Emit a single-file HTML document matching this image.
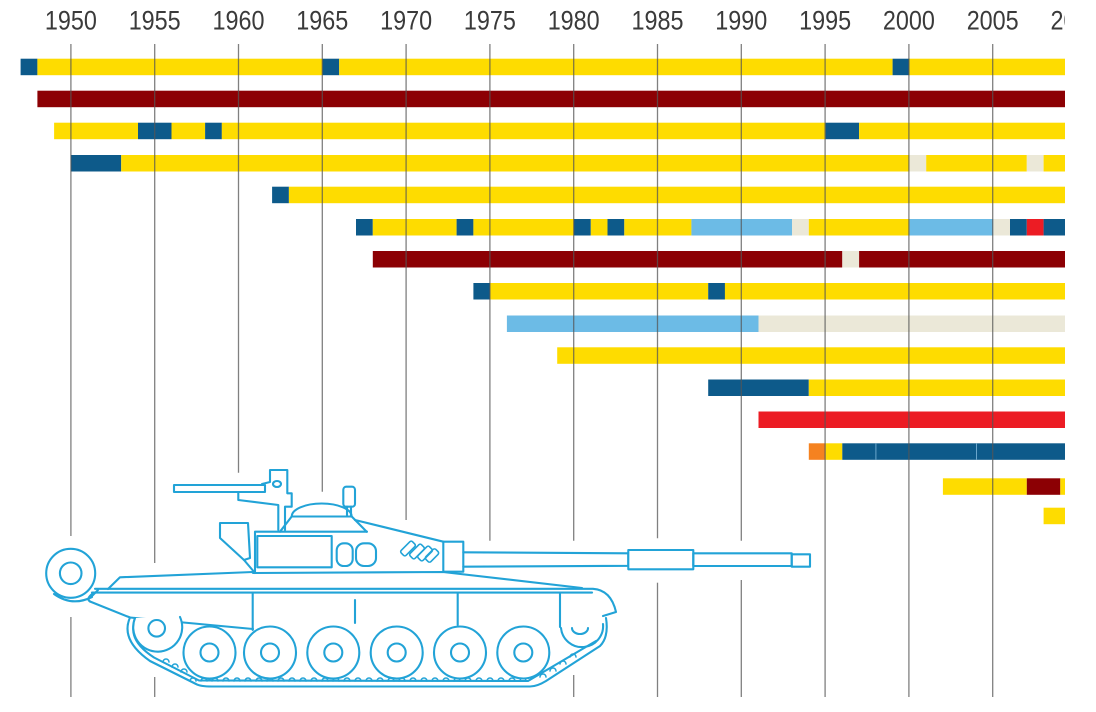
<!DOCTYPE html>
<html><head><meta charset="utf-8">
<style>
html,body{margin:0;padding:0;background:#fff;}
svg{display:block;}
</style></head>
<body>
<svg width="1096" height="712" viewBox="0 0 1096 712" xmlns="http://www.w3.org/2000/svg">
<defs>
<clipPath id="cp"><rect x="0" y="0" width="1065" height="712"/></clipPath>
</defs>
<rect width="1096" height="712" fill="#fff"/>
<g clip-path="url(#cp)">
<!-- year labels -->
<g font-family="Liberation Sans, sans-serif" font-size="27" fill="#3a3a3a" text-anchor="middle">
<text x="70.9" y="29.3" textLength="52" lengthAdjust="spacingAndGlyphs">1950</text>
<text x="154.7" y="29.3" textLength="52" lengthAdjust="spacingAndGlyphs">1955</text>
<text x="238.5" y="29.3" textLength="52" lengthAdjust="spacingAndGlyphs">1960</text>
<text x="322.3" y="29.3" textLength="52" lengthAdjust="spacingAndGlyphs">1965</text>
<text x="406.1" y="29.3" textLength="52" lengthAdjust="spacingAndGlyphs">1970</text>
<text x="489.9" y="29.3" textLength="52" lengthAdjust="spacingAndGlyphs">1975</text>
<text x="573.7" y="29.3" textLength="52" lengthAdjust="spacingAndGlyphs">1980</text>
<text x="657.5" y="29.3" textLength="52" lengthAdjust="spacingAndGlyphs">1985</text>
<text x="741.3" y="29.3" textLength="52" lengthAdjust="spacingAndGlyphs">1990</text>
<text x="825.1" y="29.3" textLength="52" lengthAdjust="spacingAndGlyphs">1995</text>
<text x="908.9" y="29.3" textLength="52" lengthAdjust="spacingAndGlyphs">2000</text>
<text x="992.7" y="29.3" textLength="52" lengthAdjust="spacingAndGlyphs">2005</text>
<text x="1076.5" y="29.3" textLength="52" lengthAdjust="spacingAndGlyphs">2010</text>
</g>

<!-- bars -->
<g>
<!-- R1 -->
<rect x="20.6" y="58.7" width="16.8" height="16.5" fill="#0d5a8a"/>
<rect x="37.4" y="58.7" width="285.1" height="16.5" fill="#fedc00"/>
<rect x="322.4" y="58.7" width="16.8" height="16.5" fill="#0d5a8a"/>
<rect x="339.2" y="58.7" width="553.4" height="16.5" fill="#fedc00"/>
<rect x="892.6" y="58.7" width="16.8" height="16.5" fill="#0d5a8a"/>
<rect x="909.4" y="58.7" width="160" height="16.5" fill="#fedc00"/>
<!-- R2 -->
<rect x="37.4" y="90.7" width="1040" height="16.5" fill="#8c0004"/>
<!-- R3 -->
<rect x="54.1" y="122.7" width="83.9" height="16.5" fill="#fedc00"/>
<rect x="138" y="122.7" width="33.5" height="16.5" fill="#0d5a8a"/>
<rect x="171.5" y="122.7" width="33.6" height="16.5" fill="#fedc00"/>
<rect x="205.1" y="122.7" width="16.8" height="16.5" fill="#0d5a8a"/>
<rect x="221.8" y="122.7" width="603.7" height="16.5" fill="#fedc00"/>
<rect x="825.5" y="122.7" width="33.6" height="16.5" fill="#0d5a8a"/>
<rect x="859.1" y="122.7" width="220" height="16.5" fill="#fedc00"/>
<!-- R4 -->
<rect x="70.9" y="155" width="50.3" height="16.5" fill="#0d5a8a"/>
<rect x="121.2" y="155" width="788.2" height="16.5" fill="#fedc00"/>
<rect x="909.4" y="155" width="16.8" height="16.5" fill="#ebe8d8"/>
<rect x="926.2" y="155" width="100.6" height="16.5" fill="#fedc00"/>
<rect x="1026.8" y="155" width="16.8" height="16.5" fill="#ebe8d8"/>
<rect x="1043.6" y="155" width="40" height="16.5" fill="#fedc00"/>
<!-- R5 -->
<rect x="272.1" y="186.7" width="16.8" height="16.5" fill="#0d5a8a"/>
<rect x="288.9" y="186.7" width="800" height="16.5" fill="#fedc00"/>
<!-- R6 -->
<rect x="356" y="219" width="16.8" height="16.5" fill="#0d5a8a"/>
<rect x="372.8" y="219" width="83.8" height="16.5" fill="#fedc00"/>
<rect x="456.6" y="219" width="16.8" height="16.5" fill="#0d5a8a"/>
<rect x="473.4" y="219" width="100.6" height="16.5" fill="#fedc00"/>
<rect x="574" y="219" width="16.8" height="16.5" fill="#0d5a8a"/>
<rect x="590.8" y="219" width="16.7" height="16.5" fill="#fedc00"/>
<rect x="607.5" y="219" width="16.8" height="16.5" fill="#0d5a8a"/>
<rect x="624.3" y="219" width="67.1" height="16.5" fill="#fedc00"/>
<rect x="691.4" y="219" width="100.6" height="16.5" fill="#6cbbe6"/>
<rect x="792" y="219" width="16.8" height="16.5" fill="#ebe8d8"/>
<rect x="808.8" y="219" width="100.6" height="16.5" fill="#fedc00"/>
<rect x="909.4" y="219" width="83.9" height="16.5" fill="#6cbbe6"/>
<rect x="993.3" y="219" width="16.7" height="16.5" fill="#ebe8d8"/>
<rect x="1010" y="219" width="16.8" height="16.5" fill="#0d5a8a"/>
<rect x="1026.8" y="219" width="16.8" height="16.5" fill="#ec1c24"/>
<rect x="1043.6" y="219" width="40" height="16.5" fill="#0d5a8a"/>
<!-- R7 -->
<rect x="372.8" y="251" width="469.5" height="16.5" fill="#8c0004"/>
<rect x="842.3" y="251" width="16.8" height="16.5" fill="#ebe8d8"/>
<rect x="859.1" y="251" width="230" height="16.5" fill="#8c0004"/>
<!-- R8 -->
<rect x="473.4" y="283" width="16.8" height="16.5" fill="#0d5a8a"/>
<rect x="490.2" y="283" width="218" height="16.5" fill="#fedc00"/>
<rect x="708.2" y="283" width="16.8" height="16.5" fill="#0d5a8a"/>
<rect x="724.9" y="283" width="360" height="16.5" fill="#fedc00"/>
<!-- R9 -->
<rect x="506.9" y="315.5" width="251.6" height="16.5" fill="#6cbbe6"/>
<rect x="758.5" y="315.5" width="330" height="16.5" fill="#ebe8d8"/>
<!-- R10 -->
<rect x="557.2" y="347.3" width="530" height="16.5" fill="#fedc00"/>
<!-- R11 -->
<rect x="708.2" y="379.5" width="100.6" height="16.5" fill="#0d5a8a"/>
<rect x="808.8" y="379.5" width="280" height="16.5" fill="#fedc00"/>
<!-- R12 -->
<rect x="758.5" y="411.5" width="330" height="16.5" fill="#ec1c24"/>
<!-- R13 -->
<rect x="808.8" y="443.3" width="16.8" height="16.5" fill="#f58220"/>
<rect x="825.6" y="443.3" width="16.7" height="16.5" fill="#fedc00"/>
<rect x="842.3" y="443.3" width="250" height="16.5" fill="#0d5a8a"/>
<line x1="875.9" y1="443.3" x2="875.9" y2="459.8" stroke="#6aa6cc" stroke-width="1"/>
<line x1="976.5" y1="443.3" x2="976.5" y2="459.8" stroke="#6aa6cc" stroke-width="1"/>
<!-- R14 -->
<rect x="942.9" y="478.3" width="83.9" height="16.5" fill="#fedc00"/>
<rect x="1026.8" y="478.3" width="33.5" height="16.5" fill="#8c0004"/>
<rect x="1060.3" y="478.3" width="30" height="16.5" fill="#fedc00"/>
<!-- R15 -->
<rect x="1043.6" y="507.7" width="50" height="16.5" fill="#fedc00"/>
</g>

<!-- gridlines -->
<g stroke="#555" stroke-width="1.3" stroke-opacity="0.75">
<line x1="70.9" y1="44" x2="70.9" y2="536"/>
<line x1="70.9" y1="617" x2="70.9" y2="697"/>
<line x1="154.7" y1="44" x2="154.7" y2="563"/>
<line x1="154.7" y1="677" x2="154.7" y2="697"/>
<line x1="238.5" y1="44" x2="238.5" y2="472.7"/>
<line x1="322.3" y1="44" x2="322.3" y2="491.7"/>
<line x1="406.1" y1="44" x2="406.1" y2="520"/>
<line x1="489.9" y1="44" x2="489.9" y2="540.7"/>
<line x1="573.7" y1="44" x2="573.7" y2="540.7"/>
<line x1="573.7" y1="675" x2="573.7" y2="697"/>
<line x1="657.5" y1="44" x2="657.5" y2="538.3"/>
<line x1="657.5" y1="582.7" x2="657.5" y2="697"/>
<line x1="741.3" y1="44" x2="741.3" y2="540.7"/>
<line x1="741.3" y1="580" x2="741.3" y2="697"/>
<line x1="825.1" y1="44" x2="825.1" y2="697"/>
<line x1="908.9" y1="44" x2="908.9" y2="697"/>
<line x1="992.7" y1="44" x2="992.7" y2="697"/>
</g>
</g>

<!-- tank -->
<g fill="none" stroke="#22a3d7" stroke-width="2.1" stroke-linejoin="round" stroke-linecap="round">
<!-- rear wheel -->
<circle cx="70.7" cy="573.3" r="24.5" fill="#fff"/>
<circle cx="70.7" cy="573.3" r="10.8"/>
<path d="M54,594 Q72,607 92,597"/>
<path d="M92,596 L98,590"/>
<!-- hull deck -->
<path d="M108,589 L120,577.3 L253,572 M253,573 L443,572 L582,588"/>
<!-- fender double line -->
<path d="M95,588.8 L593,588.8 Q611,590 616,612 L603,616"/>
<path d="M92,592.6 L592,592.6"/>
<!-- lower hull -->
<path d="M90,601.5 L130,617.5 L253,629"/>
<path d="M92,594 Q86,599 90,601.5"/>
<!-- vertical hull lines -->
<path d="M252.7,592.6 L252.7,630 M355,600 L355,623 M457.7,592.6 L457.7,625 M560,592.6 L560,627"/>
<!-- track outer -->
<path d="M130,617.5 Q120,640 150,661 L196,684 Q200,686.5 212,686.5 L530,686.5 Q537,686.5 546,681 L600,646 Q609,637 606,618"/>
<path d="M135,620 Q127,640 154,657.5 L199,680.5 L528,681 L596,641"/>
<!-- sprockets -->
<path d="M135,618 A24.5,24.5 0 1 0 180,617" fill="#fff"/>
<circle cx="156.7" cy="628.3" r="8.3"/>
<path d="M561,628 A21,21 0 0 0 603,624"/>
<path d="M572,628 A8,6 0 0 0 588,628"/>
<!-- track teeth -->
<g stroke-width="1.5">
<path d="M190,681 a3,3 0 0 1 6,0 M201,681 a3,3 0 0 1 6,0 M212,681 a3,3 0 0 1 6,0 M223,681 a3,3 0 0 1 6,0 M234,681 a3,3 0 0 1 6,0 M245,681 a3,3 0 0 1 6,0 M256,681 a3,3 0 0 1 6,0 M267,681 a3,3 0 0 1 6,0 M278,681 a3,3 0 0 1 6,0 M289,681 a3,3 0 0 1 6,0 M300,681 a3,3 0 0 1 6,0 M311,681 a3,3 0 0 1 6,0 M322,681 a3,3 0 0 1 6,0 M333,681 a3,3 0 0 1 6,0 M344,681 a3,3 0 0 1 6,0 M355,681 a3,3 0 0 1 6,0 M366,681 a3,3 0 0 1 6,0 M377,681 a3,3 0 0 1 6,0 M388,681 a3,3 0 0 1 6,0 M399,681 a3,3 0 0 1 6,0 M410,681 a3,3 0 0 1 6,0 M421,681 a3,3 0 0 1 6,0 M432,681 a3,3 0 0 1 6,0 M443,681 a3,3 0 0 1 6,0 M454,681 a3,3 0 0 1 6,0 M465,681 a3,3 0 0 1 6,0 M476,681 a3,3 0 0 1 6,0 M487,681 a3,3 0 0 1 6,0 M498,681 a3,3 0 0 1 6,0 M509,681 a3,3 0 0 1 6,0 M520,681 a3,3 0 0 1 6,0 M540,677 a3,3 0 0 1 6,0 M550,671 a3,3 0 0 1 6,0 M560,664 a3,3 0 0 1 6,0 M570,657 a3,3 0 0 1 6,0"/>
<path d="M163,662 a3,3 0 0 1 6,0 M172,667 a3,3 0 0 1 6,0 M181,672 a3,3 0 0 1 6,0"/>
</g>
<!-- road wheels -->
<g fill="#fff">
<circle cx="209.5" cy="652.5" r="26"/>
<circle cx="270" cy="652.5" r="26"/>
<circle cx="333.3" cy="652.5" r="26"/>
<circle cx="396.7" cy="652.5" r="26"/>
<circle cx="460" cy="652.5" r="26"/>
<circle cx="523.3" cy="652.5" r="26"/>
</g>
<circle cx="209.5" cy="652.5" r="9"/>
<circle cx="270" cy="652.5" r="9"/>
<circle cx="333.3" cy="652.5" r="9"/>
<circle cx="396.7" cy="652.5" r="9"/>
<circle cx="460" cy="652.5" r="9"/>
<circle cx="523.3" cy="652.5" r="9"/>
<!-- turret -->
<path d="M220,523 L248,523 L250,558 L244,560 L220,538 Z" fill="#fff"/>
<path d="M244,560 L255,573"/>
<path d="M255,573 L255,531.7 L367,531.7"/>
<path d="M280,531.7 L291.7,516.5 L351.7,516.5 L366.7,531.7"/>
<path d="M291.7,516.5 A30,13 0 0 1 351.7,516.5"/>
<path d="M355,520 L443.3,541.7"/>
<rect x="257.3" y="536" width="74.4" height="31.3"/>
<rect x="336.7" y="543.3" width="16" height="22.7" rx="7"/>
<rect x="356" y="543.3" width="20" height="22.7" rx="8"/>
<g stroke-width="1.6">
<rect x="400" y="545" width="16" height="7" rx="2" transform="rotate(-45 408 548.5)"/>
<rect x="409" y="548" width="16" height="7" rx="2" transform="rotate(-45 417 551.5)"/>
<rect x="417" y="550" width="16" height="7" rx="2" transform="rotate(-45 425 553.5)"/>
<rect x="425" y="552" width="14" height="7" rx="2" transform="rotate(-45 432 555.5)"/>
</g>
<!-- mantlet -->
<rect x="443.3" y="541.7" width="20" height="30" fill="#fff"/>
<!-- gun -->
<path d="M463.3,552.3 L628.3,553.3 L628.3,565.8 L463.3,566.7"/>
<rect x="628.3" y="550" width="65" height="19.3" fill="#fff"/>
<rect x="693.3" y="553.3" width="98.4" height="12.7"/>
<rect x="791.7" y="554.3" width="18.3" height="12.4"/>
<!-- machine gun -->
<rect x="174" y="485" width="91" height="7"/>
<path d="M238.3,492 L238.3,500 L278.3,505 L278.3,530 M285,530 L285,506.7 L291.7,506.7 L291.7,493.3 L287.3,493.3 L287.3,470 L270,470 L270,482 L262,484"/>
<ellipse cx="277" cy="484" rx="4" ry="3"/>
<!-- periscope -->
<rect x="343.3" y="486.7" width="11.7" height="20" rx="3"/>
<path d="M347,506.7 L347,516 M351,506.7 L351,516"/>
</g>
</svg>
</body></html>
